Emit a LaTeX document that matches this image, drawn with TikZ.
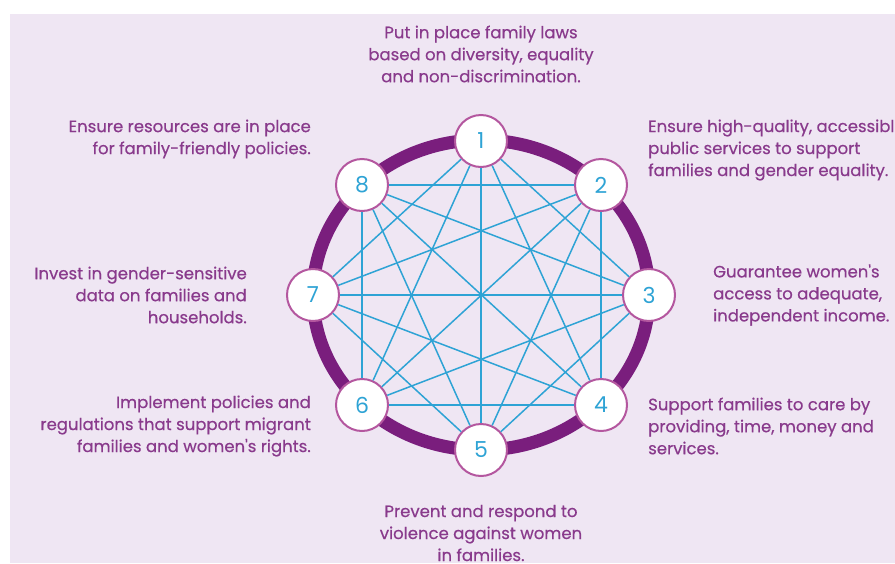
\documentclass[tikz,border=0pt]{standalone}
\usepackage{fontspec}
\setmainfont{Poppins}
\newfontfamily\capfont{Poppins}[FakeBold=0.5]
\definecolor{bglav}{HTML}{EFE6F3}
\definecolor{ringpurple}{HTML}{7A1E7D}
\definecolor{ringpink}{HTML}{B4579F}
\definecolor{chordblue}{HTML}{2EA3D5}
\definecolor{textpurple}{HTML}{893A8C}

\begin{document}
\begin{tikzpicture}[x=1pt,y=-1pt,
    numnode/.style={circle,draw=ringpink,line width=2pt,fill=white,
        minimum size=52pt,inner sep=0pt,text=chordblue,
        font=\fontsize{22}{22}\selectfont},
    chord/.style={chordblue,line width=1.5pt},
    caption/.style={text=textpurple,font=\capfont\fontsize{16.5}{22}\selectfont,inner sep=0pt}]
    \useasboundingbox (0,0) rectangle (895,563);
    \fill[white] (0,0) rectangle (895,563);
    \fill[bglav] (10,14) rectangle (895,563);
    \draw[ringpurple,line width=13pt] (481,295) ellipse [x radius=168pt, y radius=155pt];
    % the eight points
    \foreach \i/\px/\py in {1/481/141, 2/601/185, 3/649/295, 4/601/405,
                            5/481/450, 6/362/405, 7/313/295, 8/362/185}
        \node[numnode] (n\i) at (\px,\py) {\i};
    % every pair that is not next to each other
    \foreach \a/\b in {1/3,1/4,1/5,1/6,1/7, 2/4,2/5,2/6,2/7,2/8,
                       3/5,3/6,3/7,3/8, 4/6,4/7,4/8, 5/7,5/8, 6/8}
        \draw[chord] (n\a) -- (n\b);
    % captions
    \node[caption,align=center] (t1) at (481,54)
        {Put in place family laws\\based on diversity, equality\\and non-discrimination.};
    \node[caption,align=left,anchor=west] (t2) at (648,150)
        {Ensure high-quality, accessible\\public services to support\\families and gender equality.};
    \node[caption,align=left,anchor=west] (t3) at (713,295)
        {Guarantee women's\\access to adequate,\\independent income.};
    \node[caption,align=left,anchor=west] (t4) at (648,426)
        {Support families to care by\\providing, time, money and\\services.};
    \node[caption,align=center] (t5) at (481,533)
        {Prevent and respond to\\violence against women\\in families.};
    \node[caption,align=right,anchor=east] (t6) at (311,426)
        {Implement policies and\\regulations that support migrant\\families and women's rights.};
    \node[caption,align=right,anchor=east] (t7) at (247,295)
        {Invest in gender-sensitive\\data on families and\\households.};
    \node[caption,align=right,anchor=east] (t8) at (311,139)
        {Ensure resources are in place\\for family-friendly policies.};
\end{tikzpicture}
\end{document}
